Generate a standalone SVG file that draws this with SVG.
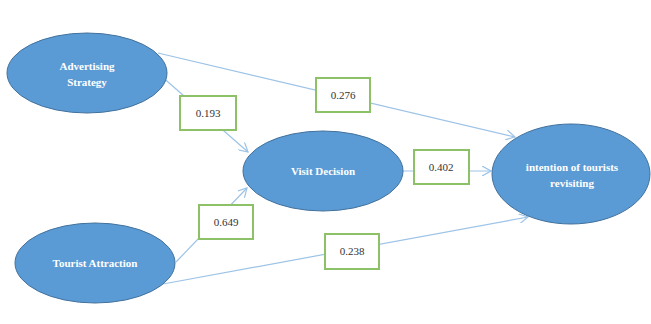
<svg xmlns="http://www.w3.org/2000/svg" width="651" height="324" viewBox="0 0 651 324">
<style>
.node ellipse{fill:#5B9BD5;stroke:#41719C;stroke-width:1}
.node text{fill:#fff;font-family:"Liberation Serif",serif;font-weight:bold;font-size:11px;text-anchor:middle}
.conn line{stroke:#9DC3E6;stroke-width:1.2;fill:none;marker-end:url(#arr)}
.lbl rect{fill:#fff;stroke:#8CC168;stroke-width:2}
.lbl text{fill:#333;font-family:"Liberation Serif",serif;font-size:11px;text-anchor:middle}
</style>
<defs>
<marker id="arr" viewBox="0 0 10 10" refX="9" refY="5" markerWidth="10" markerHeight="10" markerUnits="userSpaceOnUse" orient="auto">
<path d="M0,0 L9,5 L0,10" fill="none" stroke="#9DC3E6" stroke-width="1.2"/>
</marker>
</defs>
<rect width="651" height="324" fill="#fff"/>
<g id="connectors" class="conn">
<line x1="160" y1="75" x2="248" y2="152"/>
<line x1="158" y1="53" x2="515" y2="137"/>
<line x1="403" y1="171" x2="491" y2="171"/>
<line x1="176" y1="262" x2="247" y2="188"/>
<line x1="163" y1="284" x2="528" y2="217"/>
</g>
<g id="node-advertising" class="node">
<ellipse cx="87" cy="73" rx="80" ry="40"/>
<text x="87" y="70">Advertising</text>
<text x="87" y="86">Strategy</text>
</g>
<g id="node-visit" class="node">
<ellipse cx="323" cy="171" rx="80" ry="40"/>
<text x="323" y="175">Visit Decision</text>
</g>
<g id="node-intention" class="node">
<ellipse cx="571" cy="174" rx="79" ry="50"/>
<text x="572" y="171">intention of tourists</text>
<text x="572" y="187">revisiting</text>
</g>
<g id="node-tourist" class="node">
<ellipse cx="95" cy="263" rx="80" ry="40"/>
<text x="95" y="267">Tourist Attraction</text>
</g>
<g id="label-0193" class="lbl"><rect x="180" y="96" width="56" height="34"/><text x="208" y="117">0.193</text></g>
<g id="label-0276" class="lbl"><rect x="316" y="78" width="54" height="34"/><text x="343" y="99">0.276</text></g>
<g id="label-0402" class="lbl"><rect x="414" y="150" width="55" height="34"/><text x="441" y="171">0.402</text></g>
<g id="label-0649" class="lbl"><rect x="199" y="205" width="54" height="34"/><text x="226" y="226">0.649</text></g>
<g id="label-0238" class="lbl"><rect x="325" y="234" width="54" height="35"/><text x="352" y="255">0.238</text></g>
</svg>
